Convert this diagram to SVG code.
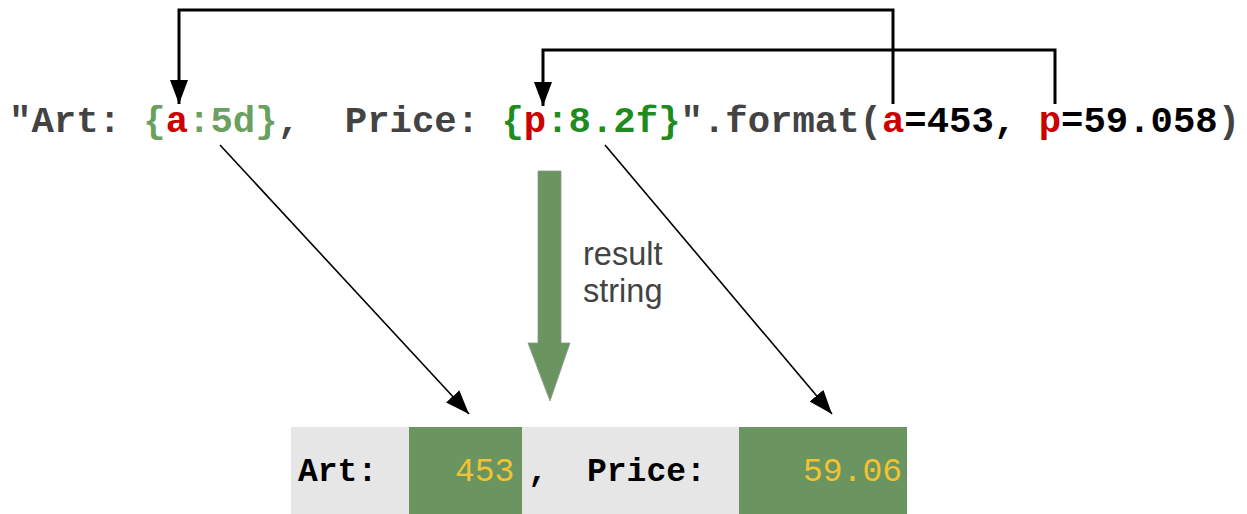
<svg xmlns="http://www.w3.org/2000/svg" width="1247" height="514" viewBox="0 0 1247 514">
<style>
.code{font-family:"Liberation Mono","Courier New",monospace;font-weight:bold;font-size:37.3px;fill:#434343}
.g1{fill:#6aa060}.g2{fill:#1f8c1f}.r{fill:#cc0000}.k{fill:#000}
.out{font-family:"Liberation Mono","Courier New",monospace;font-size:33px}
.ob{font-weight:bold;fill:#000}.oy{fill:#f1c232}
.lbl{font-family:"Liberation Sans",Arial,sans-serif;font-size:32.5px;fill:#434343}
.thick{fill:none;stroke:#000;stroke-width:3}
.thin{fill:none;stroke:#000;stroke-width:1.6}
</style>
<defs>
<marker id="ah" markerUnits="userSpaceOnUse" markerWidth="24" markerHeight="18" viewBox="0 0 24 18" refX="24" refY="9" orient="auto">
<path d="M0,0 L24,9 L0,18 z" fill="#000"/>
</marker>
</defs>
<g id="result-box">
<rect x="291" y="427" width="616" height="87" fill="#e6e6e6"/>
<rect x="409" y="427" width="113" height="87" fill="#6a9560"/>
<rect x="739" y="427" width="168" height="87" fill="#6a9560"/>
<text class="out" y="481"><tspan class="ob" x="298">Art:</tspan><tspan class="oy" x="455">453</tspan><tspan class="ob" x="528">,</tspan><tspan class="ob" x="587">Price:</tspan><tspan class="oy" x="803">59.06</tspan></text>
</g>
<g id="code-line">
<text class="code" x="9" y="132" xml:space="preserve">"Art: <tspan class="g1">{</tspan><tspan class="r">a</tspan><tspan class="g1">:5d}</tspan>,  Price: <tspan class="g2">{</tspan><tspan class="r">p</tspan><tspan class="g2">:8.2f}</tspan>".format(<tspan class="r">a</tspan><tspan class="k">=453, </tspan><tspan class="r">p</tspan><tspan class="k">=59.058</tspan>)</text>
</g>
<g id="result-arrow">
<polygon points="538,171 561,171 561,343 570,343 550,401 528,343 538,343" fill="#6a9560" stroke="#8a9a88" stroke-width="0.8"/>
<text class="lbl" x="583" y="265">result</text>
<text class="lbl" x="583" y="302">string</text>
</g>
<g id="connectors">
<path class="thick" d="M893,104 V10 H179 V104" marker-end="url(#ah)"/>
<path class="thick" d="M1055,104 V50 H543 V106" marker-end="url(#ah)"/>
<path class="thin" d="M220,145 L469,414" marker-end="url(#ah)"/>
<path class="thin" d="M605,145 L832,414" marker-end="url(#ah)"/>
</g>
</svg>
